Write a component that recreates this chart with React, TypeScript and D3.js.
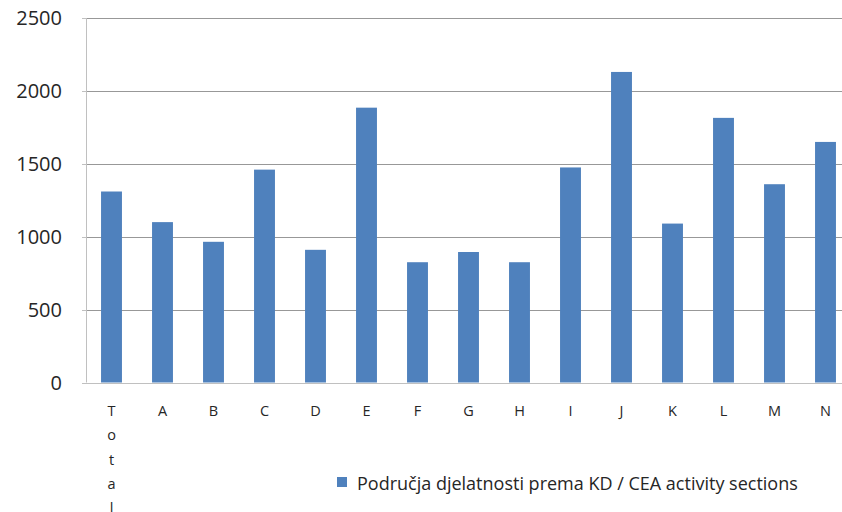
import { useEffect, useRef } from 'react';
import * as d3 from 'd3';

const categories = ['Total', 'A', 'B', 'C', 'D', 'E', 'F', 'G', 'H', 'I', 'J', 'K', 'L', 'M', 'N'];
const values = [1310, 1100, 965, 1460, 910, 1885, 825, 895, 825, 1475, 2130, 1090, 1815, 1360, 1650];
const yTicks = [0, 500, 1000, 1500, 2000, 2500];
const seriesName = 'Područja djelatnosti prema KD / CEA activity sections';

const W = 842;
const H = 512;
const FONT = '"Open Sans", "Liberation Sans", sans-serif';

const App = () => {
  const svgRef = useRef<SVGSVGElement>(null);

  useEffect(() => {
    const svg = d3.select(svgRef.current);
    svg.selectAll('*').remove();

    const margin = { top: 18, left: 86, bottom: 382.5 };
    const plotRight = margin.left + 15 * 51;

    const x = d3.scaleBand()
      .domain(categories)
      .range([margin.left, plotRight])
      .paddingInner(0.59)
      .paddingOuter(0.295);

    const y = d3.scaleLinear()
      .domain([0, 2500])
      .range([margin.bottom, margin.top]);

    // gridlines
    svg.append('g')
      .selectAll('line')
      .data(yTicks.filter(d => d > 0))
      .join('line')
      .attr('x1', margin.left)
      .attr('x2', W)
      .attr('y1', d => Math.round(y(d)) + 0.5)
      .attr('y2', d => Math.round(y(d)) + 0.5)
      .attr('stroke', '#989898')
      .attr('stroke-width', 1);

    // bars
    svg.append('g')
      .selectAll('rect')
      .data(values)
      .join('rect')
      .attr('x', (d, i) => x(categories[i])!)
      .attr('width', x.bandwidth())
      .attr('y', d => y(d))
      .attr('height', d => y(0) - y(d))
      .attr('fill', '#4F81BD');

    // axes lines
    svg.append('line')
      .attr('x1', margin.left + 0.5).attr('x2', margin.left + 0.5)
      .attr('y1', margin.top).attr('y2', margin.bottom)
      .attr('stroke', '#c0c0c0');
    svg.append('line')
      .attr('x1', margin.left).attr('x2', W)
      .attr('y1', Math.round(margin.bottom) + 0.5).attr('y2', Math.round(margin.bottom) + 0.5)
      .attr('stroke', '#c0c0c0');
    svg.append('g')
      .selectAll('line')
      .data(yTicks)
      .join('line')
      .attr('x1', margin.left - 4)
      .attr('x2', margin.left)
      .attr('y1', d => Math.round(y(d)) + 0.5)
      .attr('y2', d => Math.round(y(d)) + 0.5)
      .attr('stroke', '#c0c0c0');

    // y labels
    svg.append('g')
      .selectAll('text')
      .data(yTicks)
      .join('text')
      .attr('x', 62)
      .attr('y', d => y(d) + 7)
      .attr('text-anchor', 'end')
      .attr('font-family', FONT)
      .attr('font-size', 20)
      .attr('fill', '#262626')
      .text(d => d);

    // x labels (Total written vertically, one letter per line)
    const xl = svg.append('g');
    categories.forEach(c => {
      const cx = x(c)! + x.bandwidth() / 2;
      const letters = c === 'Total' ? c.split('') : [c];
      letters.forEach((ch, j) => {
        xl.append('text')
          .attr('x', cx)
          .attr('y', 416 + j * 24.3)
          .attr('text-anchor', 'middle')
          .attr('font-family', FONT)
          .attr('font-size', 14.5)
          .attr('fill', '#262626')
          .text(ch);
      });
    });

    // legend
    svg.append('rect')
      .attr('x', 337).attr('y', 477)
      .attr('width', 10).attr('height', 10)
      .attr('fill', '#4F81BD');
    svg.append('text')
      .attr('x', 357).attr('y', 490)
      .attr('font-family', FONT)
      .attr('font-size', 18)
      .attr('fill', '#262626')
      .text(seriesName);
  }, []);

  return (
    <div style={{ position: 'absolute', left: 0, top: 0 }}>
      <svg ref={svgRef} width={W} height={H} style={{ display: 'block', background: '#fff' }} />
    </div>
  );
};

export default App;
